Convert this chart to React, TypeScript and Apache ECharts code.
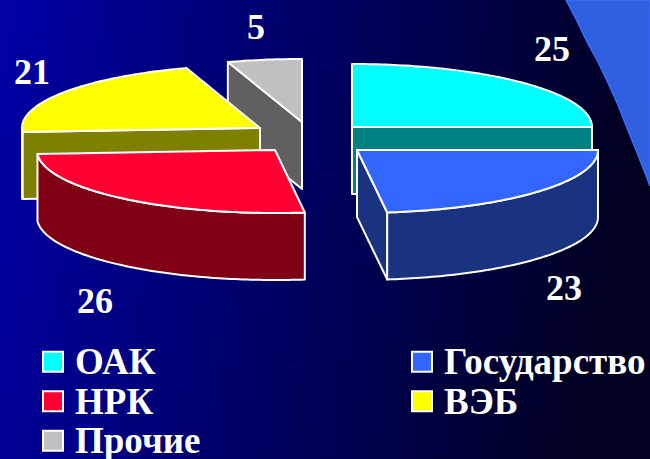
import React, { useEffect, useRef } from "react";
import * as echarts from "echarts";

const categories = ["ОАК", "Государство", "НРК", "ВЭБ", "Прочие"];
const shares = [25, 23, 26, 21, 5];
const topColors = ["#00FFFF", "#3366FF", "#FF0033", "#FFFF00", "#C0C0C0"];
const sideColors = ["#008080", "#1A3380", "#800015", "#808000", "#606060"];

// Exploded-slice layout (apex of every slice and the place of its value label)
const apexes = [[352, 127], [357, 150], [275, 150], [260, 128], [302, 122]];
const radiiX = [240, 241, 238, 238, 240];
const labelSpots = [[552, 49], [564, 288], [95, 301], [32, 72], [256, 27]];
const RY = 63, DEPTH = 67;
const drawOrder = [4, 3, 0, 2, 1];
const FONT = "'Liberation Serif', 'Times New Roman', serif";
const cornerShape = [
  [566, 0], [577, 21], [587, 42], [598, 62], [608, 83], [618, 105],
  [627, 128], [636, 150], [645, 173], [650, 186], [650, 0],
];

const rad = (d: number) => (d * Math.PI) / 180;

function renderSlice(index: number) {
  return (_params: any, api: any) => {
    const total = shares.reduce((a, b) => a + b, 0);
    const before = shares.slice(0, index).reduce((a, b) => a + b, 0);
    const a0 = (before / total) * 360;
    const a1 = a0 + (api.value(0) / total) * 360;
    const [cx, cy] = apexes[index];
    const RX = radiiX[index];
    const rim = (a: number, dy = 0) => [cx + RX * Math.sin(rad(a)), cy - RY * Math.cos(rad(a)) + dy];
    const arc = (from: number, to: number, dy = 0) => {
      const n = Math.max(2, Math.ceil(Math.abs(to - from)));
      const pts = [];
      for (let i = 0; i <= n; i++) pts.push(rim(from + ((to - from) * i) / n, dy));
      return pts;
    };
    const line = { stroke: "#FFFFFF", lineWidth: 2, lineJoin: "round" };
    const side = { fill: sideColors[index], ...line };
    const children: any[] = [];
    const radial = (a: number) => {
      const p = rim(a);
      children.push({
        type: "polygon",
        shape: { points: [[cx, cy], p, [p[0], p[1] + DEPTH], [cx, cy + DEPTH]] },
        style: side,
      });
    };
    // a radial cut face looks at the viewer only on these half-turns
    if (a0 > 180 && a0 < 360) radial(a0);
    if (a1 > 0 && a1 < 180) radial(a1);
    const w0 = Math.max(a0, 90), w1 = Math.min(a1, 270);
    if (w1 > w0) {
      children.push({
        type: "polygon",
        shape: { points: [...arc(w0, w1), ...arc(w1, w0, DEPTH)] },
        style: side,
      });
    }
    children.push({
      type: "polygon",
      shape: { points: [[cx, cy], ...arc(a0, a1)] },
      style: { fill: topColors[index], ...line },
    });
    children.push({
      type: "text",
      x: labelSpots[index][0],
      y: labelSpots[index][1],
      style: {
        text: String(api.value(0)),
        fill: "#FFFFFF",
        font: `bold 36px ${FONT}`,
        align: "center",
        verticalAlign: "middle",
      },
    });
    return { type: "group", children };
  };
}

const legendBase = {
  orient: "vertical" as const,
  icon: "rect",
  padding: 0,
  height: 130,
  itemWidth: 20,
  itemHeight: 20,
  itemGap: 0,
  selectedMode: false,
  itemStyle: { borderColor: "#FFFFFF", borderWidth: 2 },
  textStyle: {
    color: "#FFFFFF",
    fontFamily: FONT,
    fontWeight: "bold" as const,
    fontSize: 37,
    lineHeight: 39.5,
    padding: [0, 0, 0, 7],
  },
};

export default function App() {
  const ref = useRef<HTMLDivElement>(null);
  useEffect(() => {
    document.body.style.margin = "0";
    const chart = echarts.init(ref.current!, null, { renderer: "svg" });
    chart.setOption({
      animation: false,
      backgroundColor: {
        type: "linear",
        x: 0, y: 0, x2: 1, y2: 0.12,
        colorStops: [
          { offset: 0, color: "#0000A6" },
          { offset: 1, color: "#000020" },
        ],
      },
      legend: [
        { ...legendBase, left: 42, top: 342, data: ["ОАК", "НРК", "Прочие"] },
        { ...legendBase, left: 411, top: 342, data: ["Государство", "ВЭБ"] },
      ],
      graphic: [
        {
          type: "polygon",
          silent: true,
          z: 0,
          shape: { points: cornerShape },
          style: { fill: "#3060E0", stroke: "#3A6CF8", lineWidth: 1.5 },
        },
      ],
      series: drawOrder.map((i) => ({
        type: "custom",
        name: categories[i],
        coordinateSystem: "none",
        silent: true,
        z: 2,
        itemStyle: { color: topColors[i] },
        data: [[shares[i]]],
        renderItem: renderSlice(i),
      })),
    });
    return () => chart.dispose();
  }, []);
  return <div ref={ref} style={{ width: 650, height: 459 }} />;
}
